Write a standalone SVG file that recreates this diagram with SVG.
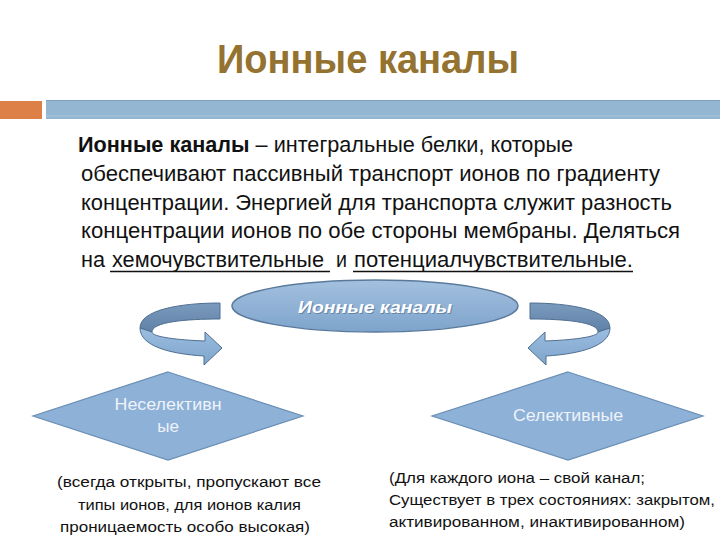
<svg xmlns="http://www.w3.org/2000/svg" width="720" height="540" viewBox="0 0 720 540">
  <defs>
    <linearGradient id="ellFill" x1="0" y1="0" x2="0" y2="1">
      <stop offset="0" stop-color="#A3C0DF"/>
      <stop offset="1" stop-color="#7EA4CB"/>
    </linearGradient>
    <linearGradient id="backBand" x1="0" y1="0" x2="0" y2="1">
      <stop offset="0" stop-color="#7B9BBE"/>
      <stop offset="1" stop-color="#5F81A6"/>
    </linearGradient>
    <linearGradient id="frontBand" x1="0" y1="0" x2="0" y2="1">
      <stop offset="0" stop-color="#9BBDE0"/>
      <stop offset="1" stop-color="#7FA5CC"/>
    </linearGradient>
    <style>
      .title { font-family: "Liberation Sans", Arial, sans-serif; font-size: 40px; font-weight: bold; fill: #94722F; }
      .body { font-family: "Liberation Sans", Arial, sans-serif; font-size: 22px; fill: #111111; }
      .bold { font-weight: bold; }
      .ul { stroke: #111111; stroke-width: 1.6; }
      .diamond { fill: #8EB1D7; stroke: #6A8DB4; stroke-width: 1.2; }
      .dlabel { font-family: "Liberation Sans", Arial, sans-serif; font-size: 17px; fill: #EEF3F9; text-anchor: middle; }
      .elabel { font-family: "Liberation Sans", Arial, sans-serif; font-size: 17px; font-weight: bold; font-style: italic; fill: #FFFFFF; text-anchor: middle; }
      .eshadow { font-family: "Liberation Sans", Arial, sans-serif; font-size: 17px; font-weight: bold; font-style: italic; fill: #4A6A8C; text-anchor: middle; opacity: 0.6; }
      .desc { font-family: "Liberation Sans", Arial, sans-serif; font-size: 15.5px; fill: #111111; }
      .back { fill: url(#backBand); stroke: #4F6F91; stroke-width: 1; }
      .front { fill: url(#frontBand); stroke: #4F6F91; stroke-width: 1; }
    </style>
  </defs>

  <rect x="0" y="0" width="720" height="540" fill="#FFFFFF"/>

  <g id="title">
    <text class="title" x="217" y="73" textLength="302" lengthAdjust="spacingAndGlyphs">Ионные каналы</text>
  </g>

  <g id="bars">
    <rect x="0" y="101" width="42" height="18" fill="#DD8047"/>
    <rect x="46" y="100" width="674" height="19" fill="#94B6D2"/>
    <line x1="46" y1="100.5" x2="720" y2="100.5" stroke="#7F9FBF" stroke-width="1"/>
    <line x1="46" y1="116" x2="720" y2="116" stroke="#A9C5DD" stroke-width="1"/>
  </g>

  <g id="definition">
    <text class="body" x="78" y="152" textLength="495" lengthAdjust="spacingAndGlyphs"><tspan class="bold">Ионные каналы</tspan> – интегральные белки, которые</text>
    <text class="body" x="81" y="181" textLength="579" lengthAdjust="spacingAndGlyphs">обеспечивают пассивный транспорт ионов по градиенту</text>
    <text class="body" x="81" y="210" textLength="591" lengthAdjust="spacingAndGlyphs">концентрации. Энергией для транспорта служит разность</text>
    <text class="body" x="81" y="238" textLength="599" lengthAdjust="spacingAndGlyphs">концентрации ионов по обе стороны мембраны. Деляться</text>
    <text class="body" x="81" y="267" textLength="24" lengthAdjust="spacingAndGlyphs">на</text>
    <text class="body" x="112" y="267" textLength="212" lengthAdjust="spacingAndGlyphs">хемочувствительные</text>
    <text class="body" x="336" y="267" textLength="11" lengthAdjust="spacingAndGlyphs">и</text>
    <text class="body" x="354" y="267" textLength="279" lengthAdjust="spacingAndGlyphs">потенциалчувствительные.</text>
    <line class="ul" x1="110" y1="271.5" x2="330" y2="271.5"/>
    <line class="ul" x1="353" y1="271.5" x2="633" y2="271.5"/>
  </g>

  <g id="connectors">
    <g id="arrow-left">
      <path class="back" d="M220,303 C180,303 140,310 140,328 L152,332 C152,322 185,319 220,319 Z"/>
      <path class="front" d="M140,328 C140,346 170,354 204,356 L204,365 L222,348 L205,332 L205,341 C178,340 152,337 152,332 Z"/>
    </g>
    <g id="arrow-right" transform="translate(750,0) scale(-1,1)">
      <path class="back" d="M220,303 C180,303 140,310 140,328 L152,332 C152,322 185,319 220,319 Z"/>
      <path class="front" d="M140,328 C140,346 170,354 204,356 L204,365 L222,348 L205,332 L205,341 C178,340 152,337 152,332 Z"/>
    </g>
  </g>

  <g id="node-ion-channels">
    <ellipse cx="375" cy="306" rx="143" ry="26" fill="url(#ellFill)" stroke="#5A7A9C" stroke-width="1.5"/>
    <text class="eshadow" x="376" y="314" textLength="154" lengthAdjust="spacingAndGlyphs">Ионные каналы</text>
    <text class="elabel" x="375" y="313" textLength="154" lengthAdjust="spacingAndGlyphs">Ионные каналы</text>
  </g>

  <g id="node-nonselective">
    <polygon class="diamond" points="168,372 303,416 168,460 33,416"/>
    <text class="dlabel" x="168" y="410" textLength="107" lengthAdjust="spacingAndGlyphs">Неселективн</text>
    <text class="dlabel" x="168" y="432">ые</text>
  </g>

  <g id="node-selective">
    <polygon class="diamond" points="568,372 703,416 568,460 432,416"/>
    <text class="dlabel" x="568" y="421" textLength="110" lengthAdjust="spacingAndGlyphs">Селективные</text>
  </g>

  <g id="desc-nonselective">
    <text class="desc" x="57" y="487" textLength="264" lengthAdjust="spacingAndGlyphs">(всегда открыты, пропускают все</text>
    <text class="desc" x="78" y="510" textLength="223" lengthAdjust="spacingAndGlyphs">типы ионов, для ионов калия</text>
    <text class="desc" x="60" y="532" textLength="250" lengthAdjust="spacingAndGlyphs">проницаемость особо высокая)</text>
  </g>

  <g id="desc-selective">
    <text class="desc" x="389" y="483" textLength="256" lengthAdjust="spacingAndGlyphs">(Для каждого иона – свой канал;</text>
    <text class="desc" x="389" y="505" textLength="326" lengthAdjust="spacingAndGlyphs">Существует в трех состояниях: закрытом,</text>
    <text class="desc" x="389" y="527" textLength="296" lengthAdjust="spacingAndGlyphs">активированном, инактивированном)</text>
  </g>
</svg>
